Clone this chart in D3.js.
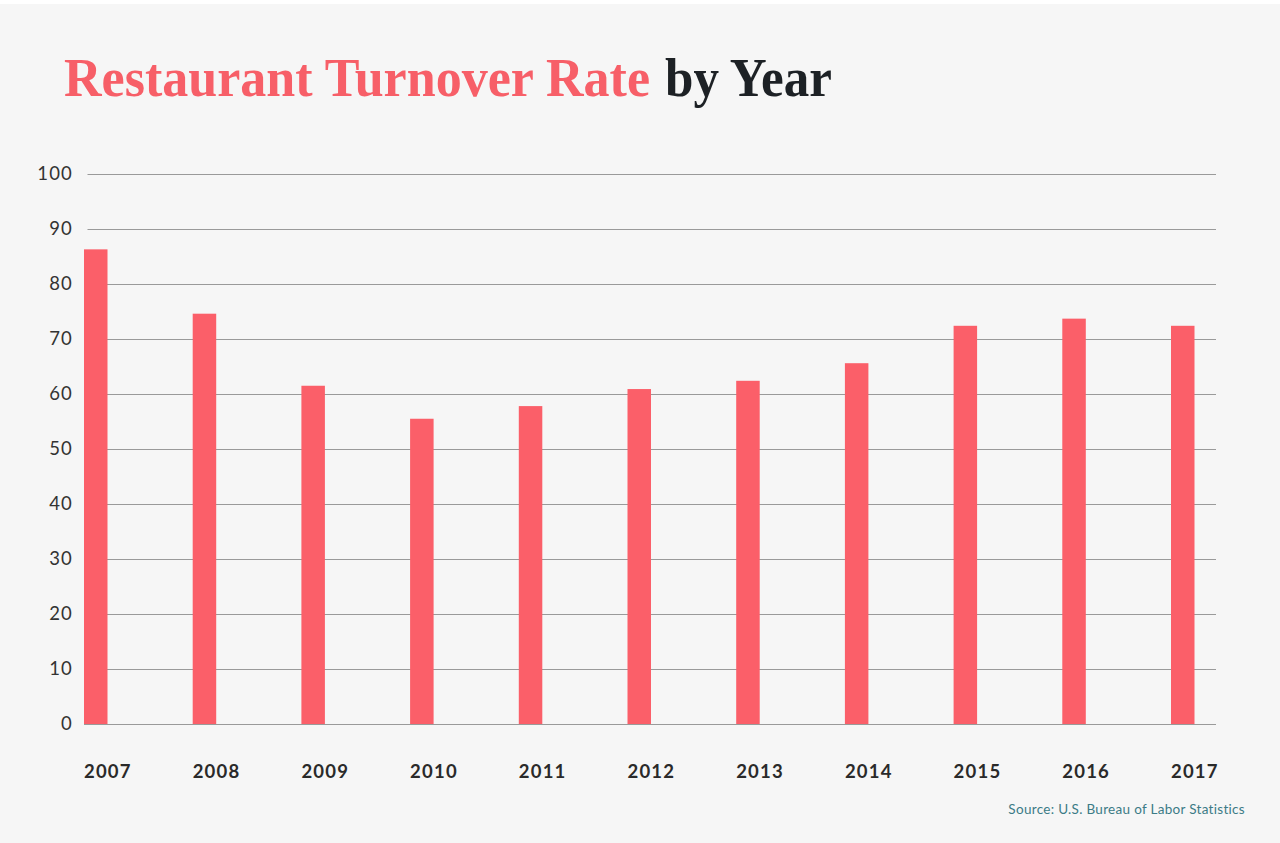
<!DOCTYPE html>
<html>
<head>
<meta charset="utf-8">
<script src="https://cdn.jsdelivr.net/npm/d3@7"></script>
<style>
  html, body { margin: 0; padding: 0; background: #ffffff; }
  svg { display: block; }
</style>
</head>
<body>
<svg id="chart" width="1280" height="843"></svg>
<script>
const years = ["2007","2008","2009","2010","2011","2012","2013","2014","2015","2016","2017"];
const turnover = [86.3, 74.6, 61.5, 55.5, 57.8, 60.9, 62.4, 65.6, 72.4, 73.7, 72.4];
const yTicks = [0, 10, 20, 30, 40, 50, 60, 70, 80, 90, 100];
const titleParts = ["Restaurant Turnover Rate", "by Year"];
const sourceText = "Source: U.S. Bureau of Labor Statistics";

const W = 1280, H = 843;
const svg = d3.select("#chart");

svg.append("rect").attr("x", 0).attr("y", 4).attr("width", W).attr("height", H - 4).attr("fill", "#f6f6f6");

const barW = 23.5;
const x = d3.scalePoint().domain(years).range([84, 1171]);
const y = d3.scaleLinear().domain([0, 100]).range([724, 174]);

// gridlines
svg.append("g").selectAll("line").data(yTicks).join("line")
  .attr("x1", d => d === 0 ? 84 : 87.5).attr("x2", 1216)
  .attr("y1", d => Math.round(y(d)) + 0.5).attr("y2", d => Math.round(y(d)) + 0.5)
  .attr("stroke", "#9a9a9a").attr("stroke-width", 1);

// y labels
svg.append("g").selectAll("text").data(yTicks).join("text")
  .attr("x", 73).attr("y", d => y(d)).attr("dy", "0.35em")
  .attr("text-anchor", "end")
  .attr("font-family", "Lato, sans-serif").attr("font-size", 18.5)
  .attr("letter-spacing", 1.2)
  .attr("fill", "#333333")
  .text(d => d);

// bars
svg.append("g").selectAll("rect").data(years).join("rect")
  .attr("x", d => x(d)).attr("width", barW)
  .attr("y", (d, i) => y(turnover[i]))
  .attr("height", (d, i) => y(0) - y(turnover[i]))
  .attr("fill", "#fb5f69");

// x labels
svg.append("g").selectAll("text").data(years).join("text")
  .attr("x", d => x(d)).attr("y", 778)
  .attr("font-family", "Lato, sans-serif").attr("font-weight", "bold").attr("font-size", 18.5)
  .attr("letter-spacing", 1.2)
  .attr("fill", "#2a2a2a")
  .text(d => d);

// title: two separate texts
const titleFont = { family: "'Liberation Serif', 'Times New Roman', serif", size: 54 };
svg.append("text")
  .attr("x", 64).attr("y", 96)
  .attr("font-family", titleFont.family).attr("font-weight", "bold").attr("font-size", titleFont.size)
  .attr("textLength", 586).attr("lengthAdjust", "spacingAndGlyphs")
  .attr("fill", "#f75f68")
  .text(titleParts[0]);
svg.append("text")
  .attr("x", 665).attr("y", 96)
  .attr("font-family", titleFont.family).attr("font-weight", "bold").attr("font-size", titleFont.size)
  .attr("textLength", 167).attr("lengthAdjust", "spacingAndGlyphs")
  .attr("fill", "#1d2125")
  .text(titleParts[1]);

// source
svg.append("text")
  .attr("x", 1245).attr("y", 814).attr("text-anchor", "end")
  .attr("font-family", "Lato, sans-serif").attr("font-size", 13.5)
  .attr("letter-spacing", 0.3)
  .attr("fill", "#3b7b86")
  .text(sourceText);
</script>
</body>
</html>
